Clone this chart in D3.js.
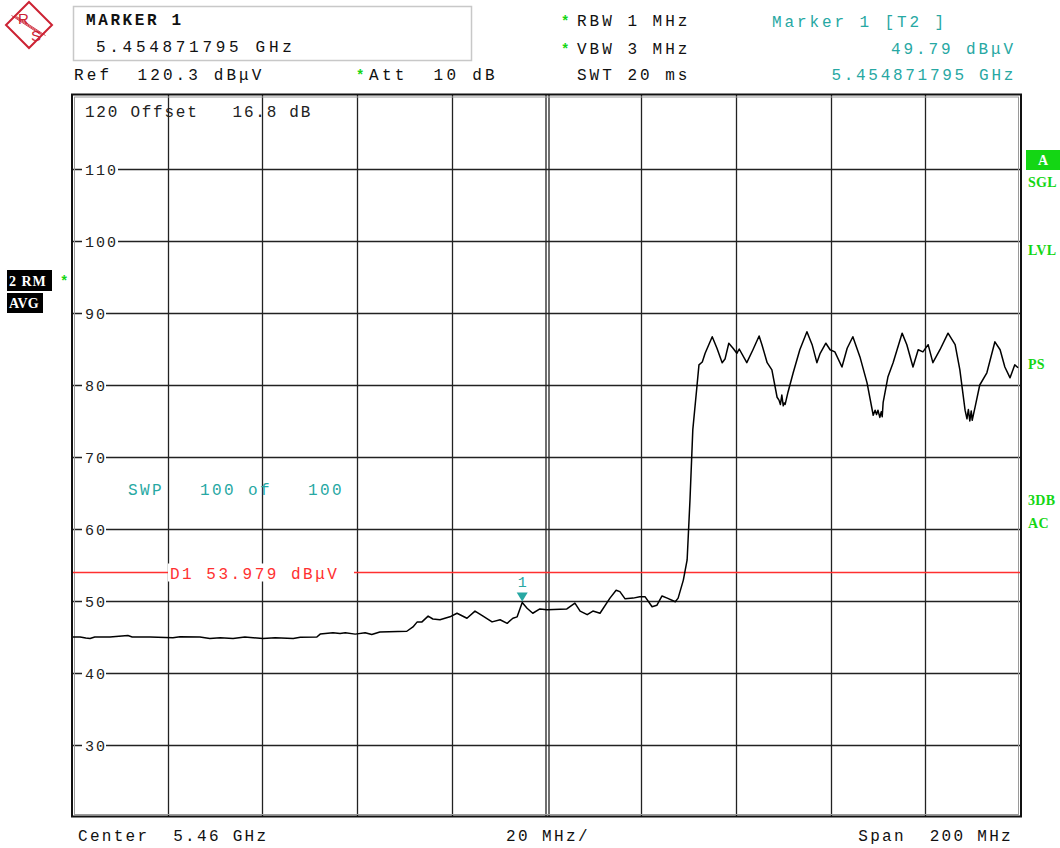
<!DOCTYPE html>
<html>
<head>
<meta charset="utf-8">
<script src="https://cdn.jsdelivr.net/npm/d3@7"></script>
<style>
  html, body { margin: 0; padding: 0; background: #fff; }
  svg { display: block; }
  text { font-family: "Liberation Mono", "DejaVu Sans Mono", monospace; white-space: pre; }
</style>
</head>
<body>
<svg id="chart" width="1060" height="848"></svg>
<script>
// ---------------- data ----------------
const centerGHz = 5.46;
const spanMHz = 200;
const refLevel = 120.3;
const yTicks = [110, 100, 90, 80, 70, 60, 50, 40, 30];
const xGridOffsets = [-80, -60, -40, -20, 0, 20, 40, 60, 80];
const displayLine = 53.979;
const markerOffsetMHz = -5.128205;   // 5.454871795 GHz
const markerLevel = 49.79;

// trace: frequency offset from center (MHz) and level (dBµV)
const traceOffsetMHz = [
  -100, -98.5, -97.3, -96.4, -95.4, -92.2, -88.4, -87.5, -83.7, -78.9,
  -77.4, -73.2, -71.1, -68.9, -66.2, -63.7, -59.9, -57.3, -53.5, -52.0,
  -48.5, -47.8, -45.1, -43.6, -42.5, -40.4, -38.3, -36.9, -35.2, -29.5,
  -28.2, -27.3, -26.3, -25.0, -24.0, -22.5, -20.4, -18.9, -16.8, -15.1,
  -13.4, -11.5, -9.8, -8.3, -7.1, -6.2, -5.128, -4.1, -2.9, -1.4,
  0.1, 4.3, 6.0, 7.1, 8.6, 9.8, 11.3, 13.4, 14.7, 15.5,
  16.6, 18.3, 19.7, 20.8, 22.3, 23.3, 24.4, 25.5, 27.2, 27.8,
  28.9, 29.7, 30.3, 30.9, 31.8, 32.2, 32.9, 33.5, 35.0, 36.0,
  37.1, 37.7, 38.5, 39.4, 40.2, 40.7, 42.3, 43.6, 44.9, 45.5,
  46.6, 47.6, 48.7, 49.1, 49.4, 49.7, 50.0, 50.2, 50.4, 51.0,
  52.1, 53.5, 55.0, 56.1, 57.1, 57.8, 59.0, 59.9, 60.9, 62.4,
  63.5, 64.7, 66.2, 67.7, 69.0, 69.4, 69.7, 70.0, 70.4, 70.7,
  70.9, 71.1, 72.1, 73.2, 75.1, 76.1, 77.4, 78.5, 79.5, 80.6,
  81.6, 83.1, 84.8, 86.3, 87.3, 88.4, 88.8, 89.1, 89.4, 89.7,
  89.9, 90.5, 91.5, 93.0, 94.7, 95.8, 96.8, 97.9, 98.9, 99.6
];
const traceLevel = [
  45.0, 45.0, 44.85, 44.8, 45.0, 45.0, 45.2, 45.0, 45.0, 44.9,
  45.05, 45.0, 44.8, 44.9, 44.8, 45.0, 44.8, 44.9, 44.8, 44.95,
  45.0, 45.4, 45.6, 45.5, 45.6, 45.4, 45.6, 45.35, 45.7, 45.8,
  46.4, 47.1, 47.1, 47.9, 47.5, 47.4, 47.8, 48.3, 47.6, 48.6,
  47.9, 47.1, 47.4, 46.9, 47.6, 47.8, 49.79, 49.0, 48.3, 48.9,
  48.8, 48.9, 49.7, 48.6, 48.1, 48.6, 48.3, 50.4, 51.5, 51.3,
  50.3, 50.4, 50.6, 50.6, 49.2, 49.4, 50.7, 50.4, 49.9, 50.4,
  52.9, 55.7, 64.0, 73.8, 80.0, 82.8, 83.2, 84.4, 86.7, 85.1,
  83.1, 83.6, 85.8, 85.1, 84.4, 85.0, 83.1, 84.9, 86.8, 85.6,
  83.1, 82.1, 78.3, 77.9, 77.3, 78.6, 77.1, 77.5, 77.3, 79.0,
  81.7, 84.9, 87.4, 85.6, 83.1, 84.4, 85.8, 84.9, 84.6, 82.5,
  85.1, 86.7, 83.9, 80.3, 75.8, 76.5, 75.9, 76.5, 75.5, 76.3,
  75.6, 77.6, 81.1, 83.1, 87.2, 85.6, 82.5, 84.9, 84.6, 85.6,
  83.1, 84.9, 87.2, 85.6, 82.1, 76.5, 75.3, 76.6, 75.0, 76.4,
  75.1, 76.9, 80.0, 81.7, 86.0, 84.9, 82.5, 81.0, 82.8, 82.4
];

// ---------------- colours ----------------
const TEAL = "#27a8a3";
const GREEN = "#14d614";
const RED = "#ff3030";
const LOGO = "#cc2233";

// ---------------- scales ----------------
const svg = d3.select("#chart");
const x = d3.scaleLinear().domain([-spanMHz / 2, spanMHz / 2]).range([73, 1020]);
const y = d3.scaleLinear().domain([20, 120]).range([817, 97]);

// ---------------- logo ----------------
const logo = svg.append("g").attr("transform", "translate(29,25)");
logo.append("path").attr("d", "M0,-23 L23,0 L0,23 L-23,0 Z")
  .attr("fill", "none").attr("stroke", LOGO).attr("stroke-width", 2);
[-2.5, 0, 2.5].forEach(o => {
  logo.append("line")
    .attr("x1", -15 + o).attr("y1", -9 + o * 0.2).attr("x2", 14 + o).attr("y2", 10 + o * 0.2)
    .attr("stroke", LOGO).attr("stroke-width", 0.9);
});
logo.append("text").attr("x", -11).attr("y", -1).text("R")
  .attr("fill", LOGO).style("font-family", "'Liberation Sans', Arial").style("font-size", "15px");
logo.append("text").attr("x", 2).attr("y", 16).text("S")
  .attr("fill", LOGO).style("font-family", "'Liberation Sans', Arial").style("font-size", "15px");

// ---------------- header ----------------
svg.append("rect").attr("x", 73.5).attr("y", 6.5).attr("width", 398).attr("height", 54)
  .attr("fill", "none").attr("stroke", "#c8c8c8").attr("stroke-width", 1.5);

function txt(xp, yp, s, opts = {}) {
  const t = svg.append("text").attr("x", xp).attr("y", yp).text(s)
    .attr("fill", opts.fill || "#111")
    .style("font-size", (opts.size || 16) + "px")
    .style("letter-spacing", (opts.ls !== undefined ? opts.ls : 3.0) + "px");
  if (opts.bold) t.style("font-weight", "bold");
  if (opts.anchor) t.attr("text-anchor", opts.anchor);
  if (opts.family) t.style("font-family", opts.family);
  return t;
}

txt(86, 25, "MARKER 1", { bold: true, ls: 2.6 });
txt(96, 52, "5.454871795 GHz", { ls: 3.7 });
txt(74, 80, "Ref  120.3 dBμV", { ls: 3.1 });
txt(356, 80, "*", { fill: GREEN, bold: true, ls: 0, size: 14 });
txt(369, 80, "Att  10 dB", { ls: 3.3 });

txt(561, 26, "*", { fill: GREEN, bold: true, ls: 0, size: 14 });
txt(577, 26, "RBW 1 MHz", { ls: 3.0 });
txt(561, 54, "*", { fill: GREEN, bold: true, ls: 0, size: 14 });
txt(577, 54, "VBW 3 MHz", { ls: 3.0 });
txt(577, 80, "SWT 20 ms", { ls: 3.0 });

txt(772, 27, "Marker 1 [T2 ]", { fill: TEAL, ls: 2.9 });
txt(1016, 54, "49.79 dBμV", { fill: TEAL, ls: 2.9, anchor: "end" });
txt(1016, 80, "5.454871795 GHz", { fill: TEAL, ls: 2.7, anchor: "end" });

// ---------------- side labels ----------------
svg.append("rect").attr("x", 7).attr("y", 270).attr("width", 45).attr("height", 21).attr("fill", "#000");
txt(9, 286, "2 RM", { fill: "#fff", bold: true, size: 14, ls: 1.0, family: "'Liberation Serif', serif" });
txt(60, 286, "*", { fill: GREEN, bold: true, ls: 0, size: 14 });
svg.append("rect").attr("x", 7).attr("y", 293).attr("width", 36).attr("height", 20).attr("fill", "#000");
txt(9, 308, "AVG", { fill: "#fff", bold: true, size: 14, ls: 0.2, family: "'Liberation Serif', serif" });

svg.append("rect").attr("x", 1026).attr("y", 150).attr("width", 34).attr("height", 20).attr("fill", GREEN);
txt(1043, 165, "A", { fill: "#fff", bold: true, size: 14, ls: 0, anchor: "middle", family: "'Liberation Serif', serif" });
const sideLabels = [["SGL", 187], ["LVL", 255], ["PS", 369], ["3DB", 505], ["AC", 528]];
sideLabels.forEach(([s, yy]) => txt(1028, yy, s, { fill: GREEN, bold: true, size: 14, ls: 0.3, family: "'Liberation Serif', serif" }));

// ---------------- grid ----------------
const grid = svg.append("g");
xGridOffsets.forEach(o => {
  const xx = Math.round(x(o)) + 0.5;
  const offs = o === 0 ? [-1.5, 1.5] : [0];
  offs.forEach(d => {
    grid.append("line").attr("x1", xx + d).attr("x2", xx + d).attr("y1", y(refLevel)).attr("y2", y(20))
      .attr("stroke", "#222").attr("stroke-width", 1.3);
  });
});
yTicks.forEach(v => {
  const yy = Math.round(y(v)) + 0.5;
  grid.append("line").attr("x1", x(-100)).attr("x2", x(100)).attr("y1", yy).attr("y2", yy)
    .attr("stroke", "#222").attr("stroke-width", 1.3);
  const w = String(v).length === 3 ? 36 : 24;
  grid.append("rect").attr("x", 82).attr("y", yy - 7).attr("width", w).attr("height", 14).attr("fill", "#fff");
  grid.append("text").attr("x", 85).attr("y", yy + 5).text(v)
    .attr("fill", "#222").style("font-size", "15px").style("letter-spacing", "2.0px");
});

// frame
svg.append("rect").attr("x", 72).attr("y", 94.5).attr("width", 949).attr("height", 722)
  .attr("fill", "none").attr("stroke", "#111").attr("stroke-width", 2);
svg.append("rect").attr("x", 74.5).attr("y", 97).attr("width", 944).attr("height", 717.5)
  .attr("fill", "none").attr("stroke", "#9a9a9a").attr("stroke-width", 1);

txt(85, 117, "120 Offset   16.8 dB", { ls: 1.75, fill: "#222" });
txt(128, 495, "SWP   100 of   100", { ls: 2.4, fill: TEAL });

// ---------------- display line D1 ----------------
const yD = Math.round(y(displayLine)) + 0.5;
svg.append("line").attr("x1", x(-100)).attr("x2", x(100)).attr("y1", yD).attr("y2", yD)
  .attr("stroke", RED).attr("stroke-width", 1.3);
svg.append("rect").attr("x", 168).attr("y", yD - 9).attr("width", 186).attr("height", 18).attr("fill", "#fff");
txt(170, yD + 6, "D1 53.979 dBμV", { fill: RED, ls: 2.5 });

// ---------------- trace ----------------
const pts = traceOffsetMHz.map((f, i) => [f, traceLevel[i]]);
svg.append("path").datum(pts)
  .attr("d", d3.line().x(d => x(d[0])).y(d => y(d[1])))
  .attr("fill", "none").attr("stroke", "#000").attr("stroke-width", 1.5)
  .attr("stroke-linejoin", "round");

// ---------------- marker ----------------
const mx = x(markerOffsetMHz), my = y(markerLevel);
svg.append("path").attr("d", `M${mx - 5.5},${my - 10} L${mx + 5.5},${my - 10} L${mx},${my - 1} Z`).attr("fill", TEAL);
txt(mx, my - 16, "1", { fill: TEAL, ls: 0, size: 15, anchor: "middle" });

// ---------------- footer ----------------
txt(78, 841, "Center  5.46 GHz", { ls: 2.3 });
txt(506, 841, "20 MHz/", { ls: 2.4 });
txt(1013, 841, "Span  200 MHz", { ls: 2.3, anchor: "end" });
</script>
</body>
</html>
